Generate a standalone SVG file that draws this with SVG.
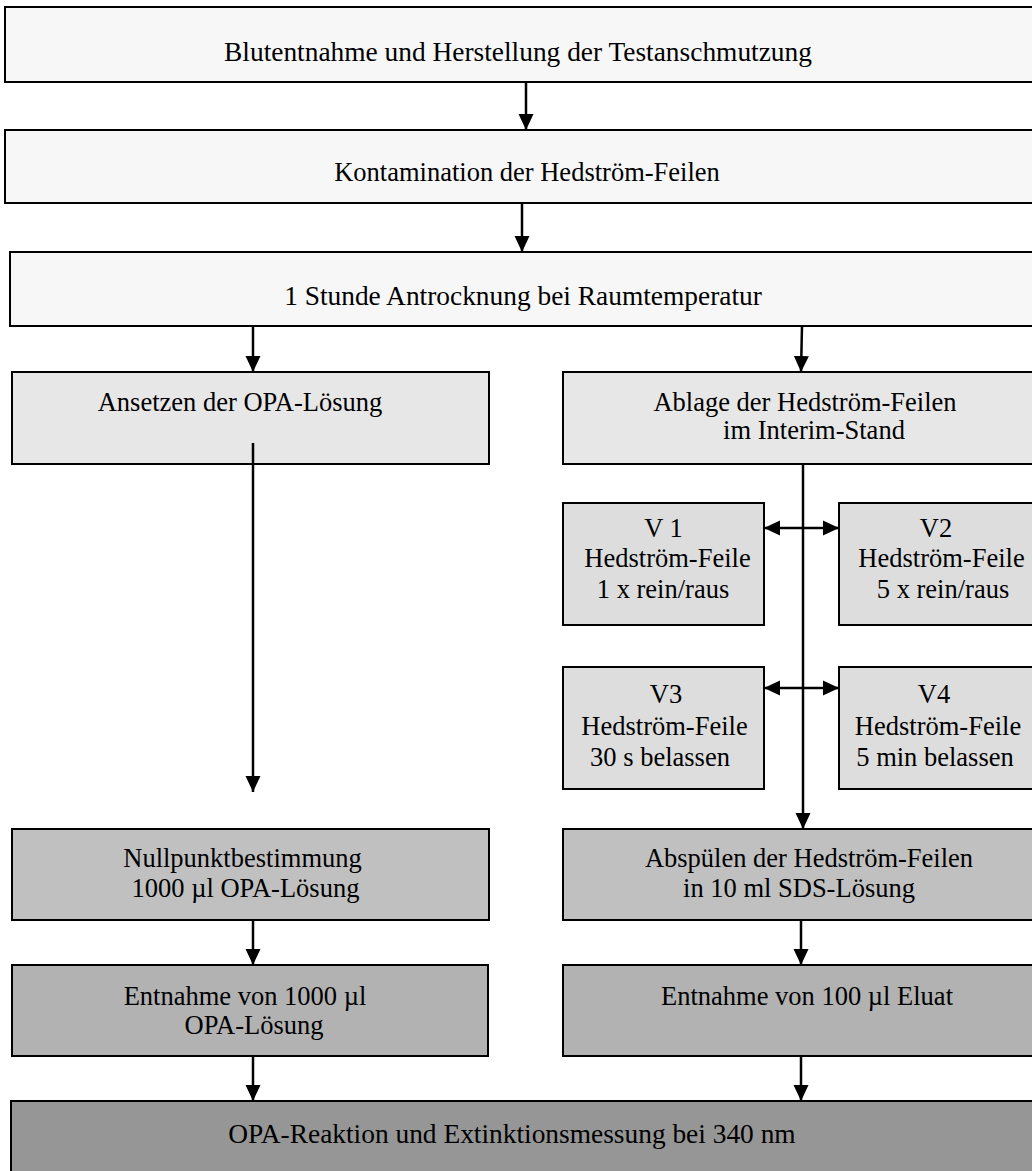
<svg xmlns="http://www.w3.org/2000/svg" width="1032" height="1171" viewBox="0 0 1032 1171">
<style>
  .box { stroke: #000; stroke-width: 2; }
  .c0 { fill: #f7f7f7; }
  .c1 { fill: #e7e7e7; }
  .c2 { fill: #dddddd; }
  .c3 { fill: #c0c0c0; }
  .c4 { fill: #b2b2b2; }
  .c5 { fill: #969696; }
  text { font-family: "Liberation Serif", "Times New Roman", serif; font-size: 26.5px; fill: #000; text-anchor: middle; }
  .big { font-size: 27.4px; }
  .ln { stroke: #000; stroke-width: 2.5; fill: none; }
</style>
<defs>
  <marker id="ah" markerUnits="userSpaceOnUse" markerWidth="16" markerHeight="16" viewBox="0 0 16 16" refX="16" refY="8" orient="auto-start-reverse">
    <path d="M0,0.5 L16,8 L0,15.5 Z" fill="#000"/>
  </marker>
</defs>
<rect x="0" y="0" width="1032" height="1171" fill="#fff"/>

<g id="n1"><rect class="box c0" x="5" y="7" width="1045" height="75"/><text class="big" x="518" y="61">Blutentnahme und Herstellung der Testanschmutzung</text></g>
<g id="n2"><rect class="box c0" x="5" y="130" width="1045" height="73"/><text x="527" y="181">Kontamination der Hedström-Feilen</text></g>
<g id="n3"><rect class="box c0" x="10" y="252" width="1040" height="74"/><text class="big" x="523" y="305">1 Stunde Antrocknung bei Raumtemperatur</text></g>
<g id="n4"><rect class="box c1" x="12" y="372" width="477" height="92"/><text x="240" y="411">Ansetzen der OPA-Lösung</text></g>
<g id="n5"><rect class="box c1" x="563" y="372" width="490" height="92"/><text x="805" y="411">Ablage der Hedström-Feilen</text><text x="814" y="439">im Interim-Stand</text></g>
<g id="n6"><rect class="box c2" x="563" y="503" width="201" height="122"/><text x="663.5" y="537">V 1</text><text x="667.5" y="567">Hedström-Feile</text><text x="663" y="598">1 x rein/raus</text></g>
<g id="n7"><rect class="box c2" x="839" y="503" width="210" height="122"/><text x="936" y="537">V2</text><text x="941.5" y="567">Hedström-Feile</text><text x="943" y="598">5 x rein/raus</text></g>
<g id="n8"><rect class="box c2" x="563" y="667" width="201" height="122"/><text x="666" y="703">V3</text><text x="664.5" y="735">Hedström-Feile</text><text x="660" y="766">30 s belassen</text></g>
<g id="n9"><rect class="box c2" x="839" y="667" width="210" height="122"/><text x="934" y="703">V4</text><text x="938" y="735">Hedström-Feile</text><text x="935" y="766">5 min belassen</text></g>
<g id="n10"><rect class="box c3" x="12" y="829" width="477" height="91"/><text x="242.5" y="867">Nullpunktbestimmung</text><text x="245.5" y="897">1000 µl OPA-Lösung</text></g>
<g id="n11"><rect class="box c3" x="563" y="829" width="490" height="91"/><text x="809" y="867">Abspülen der Hedström-Feilen</text><text x="799" y="897">in 10 ml SDS-Lösung</text></g>
<g id="n12"><rect class="box c4" x="12" y="965" width="476" height="91"/><text x="245" y="1005">Entnahme von 1000 µl</text><text x="254" y="1034">OPA-Lösung</text></g>
<g id="n13"><rect class="box c4" x="563" y="965" width="490" height="91"/><text x="807" y="1005">Entnahme von 100 µl Eluat</text></g>
<g id="n14"><rect class="box c5" x="11" y="1101" width="1040" height="80"/><text class="big" x="512" y="1143">OPA-Reaktion und Extinktionsmessung bei 340 nm</text></g>

<g id="connectors">
  <line class="ln" x1="526" y1="82" x2="526" y2="130" marker-end="url(#ah)"/>
  <line class="ln" x1="522" y1="203" x2="522" y2="252" marker-end="url(#ah)"/>
  <line class="ln" x1="253" y1="326" x2="253" y2="372" marker-end="url(#ah)"/>
  <line class="ln" x1="802" y1="326" x2="801" y2="372" marker-end="url(#ah)"/>
  <line class="ln" x1="253" y1="443" x2="253" y2="792" marker-end="url(#ah)"/>
  <line class="ln" x1="803" y1="464" x2="803" y2="829" marker-end="url(#ah)"/>
  <line class="ln" x1="764" y1="528" x2="839" y2="528" marker-start="url(#ah)" marker-end="url(#ah)"/>
  <line class="ln" x1="764" y1="688" x2="839" y2="688" marker-start="url(#ah)" marker-end="url(#ah)"/>
  <line class="ln" x1="253" y1="920" x2="253" y2="965" marker-end="url(#ah)"/>
  <line class="ln" x1="801" y1="920" x2="801" y2="965" marker-end="url(#ah)"/>
  <line class="ln" x1="253" y1="1056" x2="253" y2="1101" marker-end="url(#ah)"/>
  <line class="ln" x1="801" y1="1056" x2="801" y2="1101" marker-end="url(#ah)"/>
</g>
</svg>
